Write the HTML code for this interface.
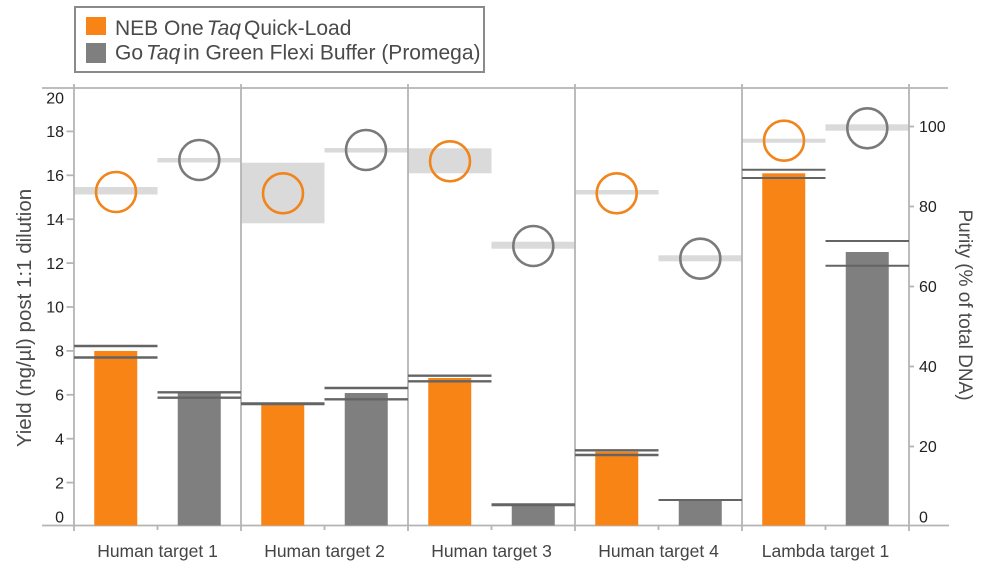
<!DOCTYPE html>
<html><head><meta charset="utf-8"><style>
html,body{margin:0;padding:0;background:#fff;}
svg{display:block;font-family:"Liberation Sans",Arial,sans-serif;}
</style></head><body>
<svg width="987" height="566" viewBox="0 0 987 566" xmlns="http://www.w3.org/2000/svg">
<!-- legend -->
<rect x="75" y="7" width="409" height="65" fill="#fff" stroke="#8a8a8a" stroke-width="2"/>
<rect x="86" y="17" width="20" height="18" fill="#f98416"/>
<rect x="86" y="43" width="20" height="20" fill="#7f7f7f"/>
<text x="115" y="35" font-size="21" fill="#4a4a4a">NEB One<tspan font-style="italic" dx="3">Taq</tspan><tspan dx="3">Quick-Load</tspan></text>
<text x="115" y="59.5" font-size="21" fill="#4a4a4a">Go<tspan font-style="italic" dx="3">Taq</tspan><tspan dx="3">in Green Flexi Buffer (Promega)</tspan></text>

<!-- purity bands -->
<g fill="#dadada">
<rect x="74" y="187" width="83.5" height="7.5"/>
<rect x="157.5" y="158" width="83.5" height="4.5"/>
<rect x="241" y="162.7" width="83.5" height="60.6"/>
<rect x="324.5" y="148" width="83.5" height="4.5"/>
<rect x="408" y="148.3" width="83.5" height="25"/>
<rect x="491.5" y="241.7" width="83.5" height="7"/>
<rect x="575" y="190" width="83.5" height="4.5"/>
<rect x="658.5" y="255.3" width="83.5" height="6"/>
<rect x="742" y="138.7" width="83.5" height="4"/>
<rect x="825.5" y="124.3" width="83.5" height="6.4"/>
</g>

<!-- axes -->
<g stroke="#b4b4b4" stroke-width="1.8" fill="none">
<line x1="42" y1="88" x2="948" y2="88"/>
<line x1="42" y1="525.5" x2="949" y2="525.5"/>
<line x1="74" y1="84" x2="74" y2="531"/>
<line x1="241" y1="84" x2="241" y2="531"/>
<line x1="408" y1="84" x2="408" y2="531"/>
<line x1="575" y1="84" x2="575" y2="531"/>
<line x1="742" y1="84" x2="742" y2="531"/>
<line x1="909" y1="84" x2="909" y2="531"/>
<line x1="157.5" y1="525" x2="157.5" y2="530"/>
<line x1="324.5" y1="525" x2="324.5" y2="530"/>
<line x1="491.5" y1="525" x2="491.5" y2="530"/>
<line x1="658.5" y1="525" x2="658.5" y2="530"/>
<line x1="825.5" y1="525" x2="825.5" y2="530"/>
<!-- left ticks -->
<line x1="66.5" y1="482.6" x2="74" y2="482.6"/>
<line x1="66.5" y1="438.7" x2="74" y2="438.7"/>
<line x1="66.5" y1="394.8" x2="74" y2="394.8"/>
<line x1="66.5" y1="350.9" x2="74" y2="350.9"/>
<line x1="66.5" y1="307" x2="74" y2="307"/>
<line x1="66.5" y1="263.1" x2="74" y2="263.1"/>
<line x1="66.5" y1="219.2" x2="74" y2="219.2"/>
<line x1="66.5" y1="175.3" x2="74" y2="175.3"/>
<line x1="66.5" y1="131.4" x2="74" y2="131.4"/>
<!-- right ticks -->
<line x1="909" y1="446.5" x2="914" y2="446.5"/>
<line x1="909" y1="366.5" x2="914" y2="366.5"/>
<line x1="909" y1="286.5" x2="914" y2="286.5"/>
<line x1="909" y1="206.5" x2="914" y2="206.5"/>
<line x1="909" y1="126.5" x2="914" y2="126.5"/>
</g>

<!-- left tick labels -->
<g font-size="16" fill="#222" text-anchor="end">
<text x="64" y="103.7">20</text>
<text x="64" y="137.1">18</text>
<text x="64" y="181">16</text>
<text x="64" y="224.9">14</text>
<text x="64" y="268.8">12</text>
<text x="64" y="312.7">10</text>
<text x="64" y="356.6">8</text>
<text x="64" y="400.5">6</text>
<text x="64" y="444.4">4</text>
<text x="64" y="488.3">2</text>
<text x="64" y="522.7">0</text>
</g>
<!-- right tick labels -->
<g font-size="16" fill="#222">
<text x="919" y="132.2">100</text>
<text x="919" y="212.2">80</text>
<text x="919" y="292.2">60</text>
<text x="919" y="372.2">40</text>
<text x="919" y="452.2">20</text>
<text x="919" y="522.7">0</text>
</g>

<!-- axis titles -->
<text transform="translate(31,318) rotate(-90)" text-anchor="middle" font-size="20.5" fill="#4a4a4a">Yield (ng/µl) post 1:1 dilution</text>
<text transform="translate(959,305) rotate(90)" text-anchor="middle" font-size="19" fill="#4a4a4a">Purity (% of total DNA)</text>

<!-- bars -->
<g fill="#f98416">
<rect x="94.25" y="351" width="43" height="174.5"/>
<rect x="261.25" y="405" width="43" height="120.5"/>
<rect x="428.25" y="378" width="43" height="147.5"/>
<rect x="595.25" y="451.7" width="43" height="73.8"/>
<rect x="762.25" y="173.3" width="43" height="352.2"/>
</g>
<g fill="#7f7f7f">
<rect x="177.75" y="393.3" width="43" height="132.2"/>
<rect x="344.75" y="393" width="43" height="132.5"/>
<rect x="511.75" y="505.7" width="43" height="19.8"/>
<rect x="678.75" y="500.3" width="43" height="25.2"/>
<rect x="845.75" y="252" width="43" height="273.5"/>
</g>

<!-- range lines -->
<g stroke="#646464" stroke-width="2.4">
<line x1="74" y1="346" x2="157.5" y2="346"/>
<line x1="74" y1="357.5" x2="157.5" y2="357.5"/>
<line x1="157.5" y1="392.3" x2="241" y2="392.3"/>
<line x1="157.5" y1="397.7" x2="241" y2="397.7"/>
<line x1="241" y1="403.8" x2="324.5" y2="403.8" stroke-width="3"/>
<line x1="324.5" y1="388" x2="408" y2="388"/>
<line x1="324.5" y1="399.3" x2="408" y2="399.3"/>
<line x1="408" y1="375.7" x2="491.5" y2="375.7"/>
<line x1="408" y1="381.3" x2="491.5" y2="381.3"/>
<line x1="491.5" y1="504.7" x2="575" y2="504.7" stroke-width="3"/>
<line x1="575" y1="450.3" x2="658.5" y2="450.3"/>
<line x1="575" y1="455" x2="658.5" y2="455"/>
<line x1="658.5" y1="500" x2="742" y2="500" stroke-width="2"/>
<line x1="742" y1="169.7" x2="825.5" y2="169.7" stroke-width="2"/>
<line x1="742" y1="178" x2="825.5" y2="178" stroke-width="2"/>
<line x1="825.5" y1="241" x2="909" y2="241" stroke-width="2"/>
<line x1="825.5" y1="265.7" x2="909" y2="265.7" stroke-width="2"/>
</g>

<!-- purity circles -->
<g fill="none" stroke-width="2.6">
<circle cx="116" cy="192" r="20" stroke="#f0851c"/>
<circle cx="199.3" cy="160" r="20" stroke="#7a7a7a"/>
<circle cx="283" cy="193.3" r="20" stroke="#f0851c"/>
<circle cx="366" cy="150" r="20" stroke="#7a7a7a"/>
<circle cx="450" cy="161.3" r="20" stroke="#f0851c"/>
<circle cx="533.3" cy="246" r="20" stroke="#7a7a7a"/>
<circle cx="616.7" cy="193.3" r="20" stroke="#f0851c"/>
<circle cx="700.3" cy="258.7" r="20" stroke="#7a7a7a"/>
<circle cx="784" cy="140.7" r="20" stroke="#f0851c"/>
<circle cx="867.3" cy="128.3" r="20" stroke="#7a7a7a"/>
</g>

<!-- category labels -->
<g font-size="17.5" fill="#444" text-anchor="middle">
<text x="157.5" y="557">Human target 1</text>
<text x="324.5" y="557">Human target 2</text>
<text x="491.5" y="557">Human target 3</text>
<text x="658.5" y="557">Human target 4</text>
<text x="825.5" y="557">Lambda target 1</text>
</g>
</svg>
</body></html>
